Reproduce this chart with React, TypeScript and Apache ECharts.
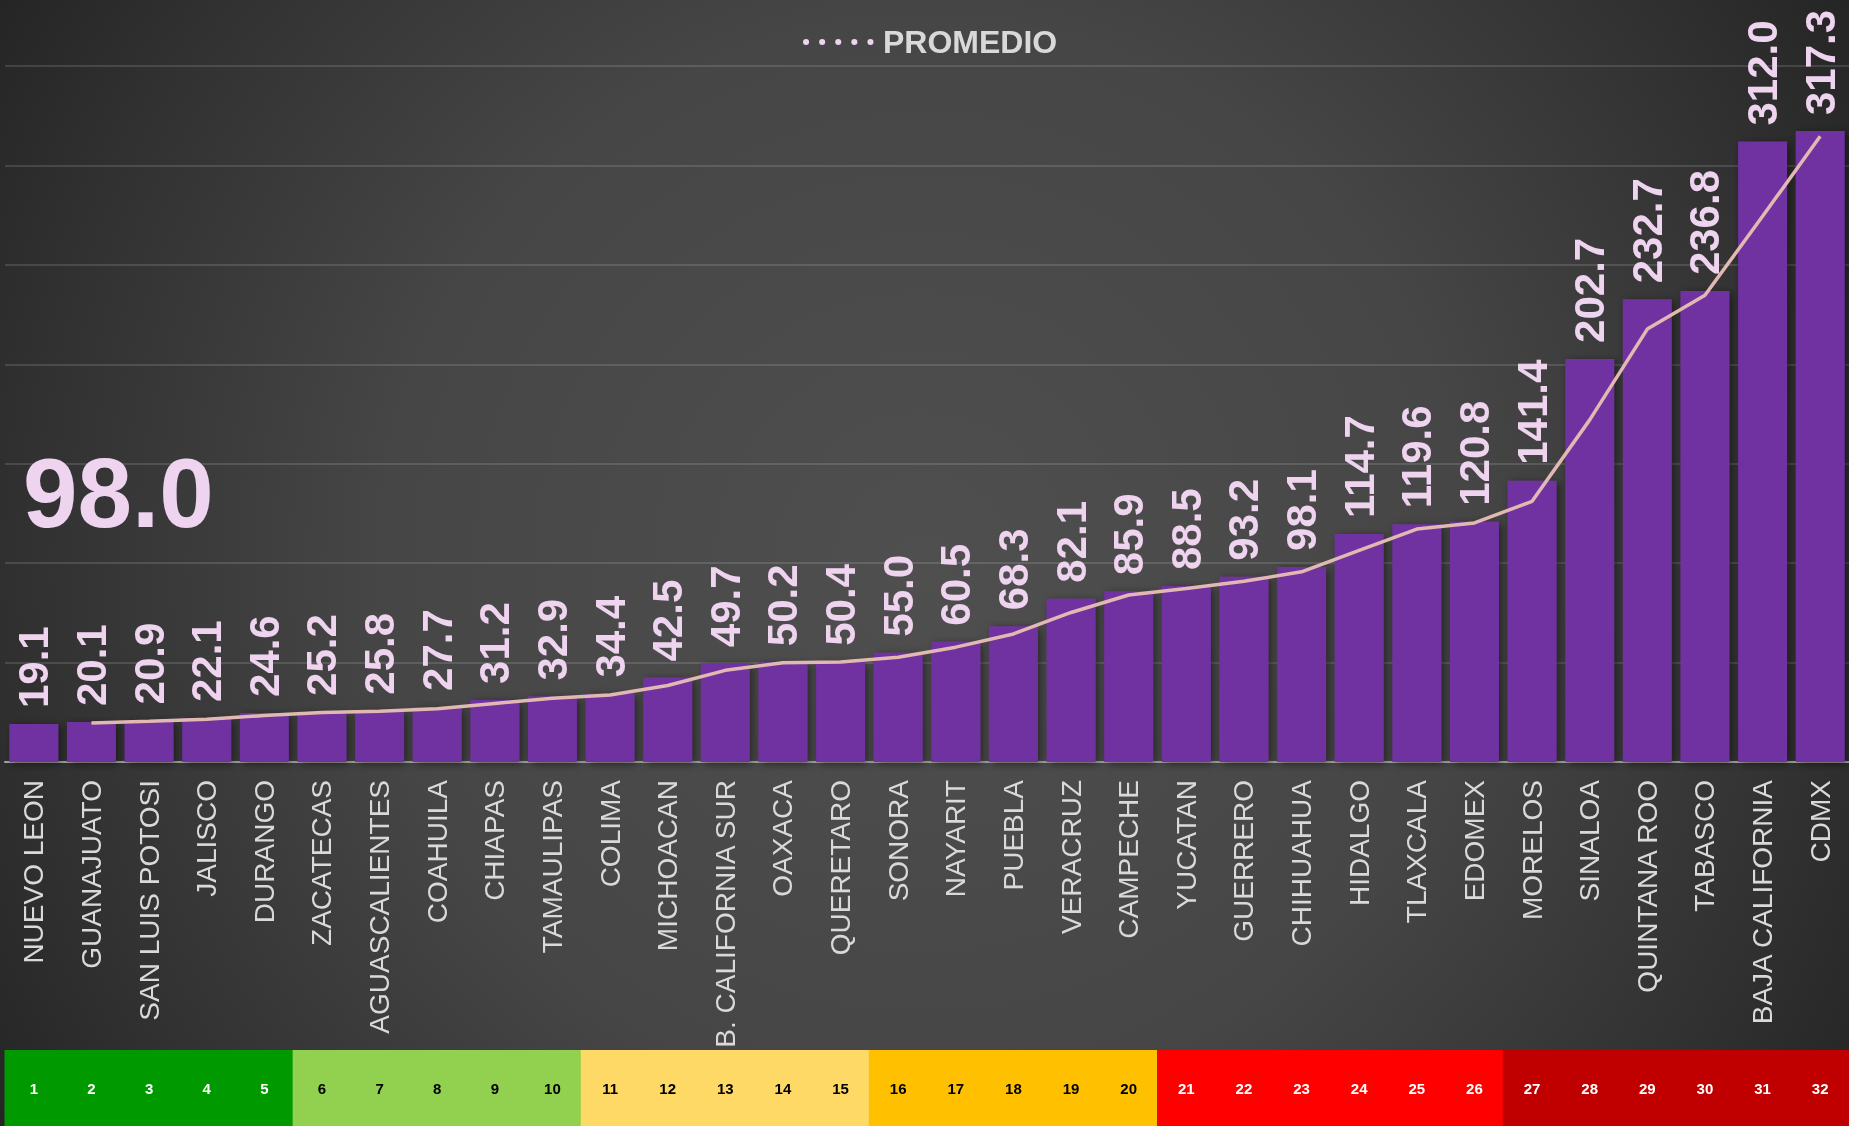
import React, { useEffect, useRef } from "react";
import * as echarts from "echarts";

const FONT = '"Liberation Sans", Arial, sans-serif';

const CATEGORIES = [
  "NUEVO LEON", "GUANAJUATO", "SAN LUIS POTOSI", "JALISCO", "DURANGO", "ZACATECAS",
  "AGUASCALIENTES", "COAHUILA", "CHIAPAS", "TAMAULIPAS", "COLIMA", "MICHOACAN",
  "B. CALIFORNIA SUR", "OAXACA", "QUERETARO", "SONORA", "NAYARIT", "PUEBLA",
  "VERACRUZ", "CAMPECHE", "YUCATAN", "GUERRERO", "CHIHUAHUA", "HIDALGO",
  "TLAXCALA", "EDOMEX", "MORELOS", "SINALOA", "QUINTANA ROO", "TABASCO",
  "BAJA CALIFORNIA", "CDMX",
];

const VALUES = [
  19.1, 20.1, 20.9, 22.1, 24.6, 25.2, 25.8, 27.7, 31.2, 32.9, 34.4, 42.5,
  49.7, 50.2, 50.4, 55.0, 60.5, 68.3, 82.1, 85.9, 88.5, 93.2, 98.1, 114.7,
  119.6, 120.8, 141.4, 202.7, 232.7, 236.8, 312.0, 317.3,
];

// Trend line (2-period moving average as drawn in the picture)
const TREND: (number | string)[] = [
  "-", 19.6, 20.5, 21.5, 23.35, 24.9, 25.5, 26.75, 29.45, 32.05, 33.65, 38.45,
  46.1, 49.95, 50.3, 52.7, 57.75, 64.4, 75.2, 84.0, 87.2, 90.85, 95.65, 106.4,
  117.15, 120.2, 131.1, 172.05, 217.7, 234.75, 274.4, 314.65,
];

const PROMEDIO = 98.0;

const RANKS = [
  "1", "2", "3", "4", "5", "6", "7", "8", "9", "10", "11", "12", "13", "14", "15", "16",
  "17", "18", "19", "20", "21", "22", "23", "24", "25", "26", "27", "28", "29", "30", "31", "32",
];

const BAND_COLORS = ["#009900", "#92D050", "#FFD966", "#FFC000", "#FF0000", "#C00000"];
const BAND_TEXT = ["#FFFFFF", "#000000", "#000000", "#000000", "#FFFFFF", "#FFFFFF"];
const BAND_SIZES = [5, 5, 5, 5, 6, 6];

export default function App() {
  const ref = useRef<HTMLDivElement>(null);

  useEffect(() => {
    if (!ref.current) return;
    const chart = echarts.init(ref.current, null, { renderer: "svg" });

    const fills: string[] = [];
    const texts: string[] = [];
    BAND_SIZES.forEach((n, g) => {
      for (let i = 0; i < n; i++) {
        fills.push(BAND_COLORS[g]);
        texts.push(BAND_TEXT[g]);
      }
    });
    const rankData = RANKS.map((r, i) => [i, 1]);

    const promedioLine = CATEGORIES.map(() => PROMEDIO);

    chart.setOption({
      animation: false,
      textStyle: { fontFamily: FONT },
      legend: {
        data: ["PROMEDIO"],
        left: 803,
        top: 26,
        padding: 0,
        itemWidth: 66,
        itemHeight: 14,
        textStyle: {
          color: "#D9D9D9",
          fontSize: 32,
          fontWeight: "bold",
          fontFamily: FONT,
          padding: [0, 0, 0, 6],
        },
        lineStyle: { color: "#EFD4EF", width: 6, type: [0.1, 16], cap: "round" },
        itemStyle: { opacity: 0 },
        selectedMode: false,
      },
      grid: [
        { left: 5, right: 0, top: 66, height: 696 },
        { left: 5, right: 0, top: 1050, height: 76 },
      ],
      xAxis: [
        {
          type: "category",
          gridIndex: 0,
          data: CATEGORIES,
          axisTick: { show: false },
          axisLine: { lineStyle: { color: "#A6A6A6", width: 2 } },
          axisLabel: {
            rotate: 90,
            interval: 0,
            color: "#D9D9D9",
            fontSize: 28,
            margin: 18,
            fontFamily: FONT,
          },
        },
        { type: "category", gridIndex: 1, data: RANKS, show: false },
      ],
      yAxis: [
        {
          type: "value",
          gridIndex: 0,
          min: 0,
          max: 350,
          interval: 50,
          axisLabel: { show: false },
          axisLine: { show: false },
          axisTick: { show: false },
          splitLine: { lineStyle: { color: "rgba(255,255,255,0.13)", width: 2 } },
        },
        { type: "value", gridIndex: 1, min: 0, max: 1, show: false },
      ],
      series: [
        {
          name: "valores",
          type: "bar",
          data: VALUES,
          barCategoryGap: "15%",
          itemStyle: {
            color: "#7030A0",
            shadowColor: "rgba(0,0,0,0.5)",
            shadowBlur: 8,
            shadowOffsetX: 3,
            shadowOffsetY: 2,
          },
          label: {
            show: true,
            position: "top",
            rotate: 90,
            align: "left",
            verticalAlign: "middle",
            distance: 16,
            color: "#EFD4EF",
            fontSize: 42,
            fontWeight: "bold",
            fontFamily: FONT,
            formatter: (p: any) => Number(p.value).toFixed(1),
          },
          z: 2,
        },
        {
          name: "tendencia",
          type: "line",
          data: TREND,
          symbol: "none",
          lineStyle: { color: "#E2B8B2", width: 3.5 },
          z: 3,
        },
        {
          name: "PROMEDIO",
          type: "line",
          data: promedioLine,
          symbol: "none",
          itemStyle: { color: "#EFD4EF" },
          lineStyle: {
            color: "#EFD4EF",
            width: 7,
            type: [0.1, 15],
            cap: "round",
            shadowColor: "rgba(0,0,0,0.45)",
            shadowBlur: 4,
            shadowOffsetY: 3,
          },
          z: 4,
        },
        {
          name: "rank",
          type: "custom",
          xAxisIndex: 1,
          yAxisIndex: 1,
          data: rankData,
          silent: true,
          renderItem: (params: any, api: any) => {
            const i = api.value(0);
            const top = api.coord([i, 1]);
            const bottom = api.coord([i, 0]);
            const size = api.size([1, 1]);
            const w = size[0];
            const x0 = top[0] - w / 2;
            return {
              type: "group",
              children: [
                {
                  type: "rect",
                  shape: { x: x0 - 0.5, y: top[1], width: w + 1, height: bottom[1] - top[1] },
                  style: { fill: fills[i], stroke: null },
                },
                {
                  type: "text",
                  x: top[0],
                  y: (top[1] + bottom[1]) / 2,
                  style: {
                    text: RANKS[i],
                    fill: texts[i],
                    fontSize: 15,
                    fontWeight: "bold",
                    fontFamily: FONT,
                    align: "center",
                    verticalAlign: "middle",
                  },
                },
              ],
            };
          },
        },
      ],
      graphic: [
        {
          type: "text",
          x: 23,
          y: 493,
          z: 10,
          style: {
            text: PROMEDIO.toFixed(1),
            fill: "#EFD4EF",
            fontSize: 98,
            fontWeight: "bold",
            fontFamily: FONT,
            verticalAlign: "middle",
          },
        },
      ],
    });

    return () => chart.dispose();
  }, []);

  return (
    <div
      ref={ref}
      style={{
        position: "fixed",
        left: 0,
        top: 0,
        width: 1849,
        height: 1126,
        background:
          "radial-gradient(circle farthest-corner at 50% 50%, #4f4f4f 0%, #464646 50%, #313131 83%, #252525 100%)",
      }}
    />
  );
}
